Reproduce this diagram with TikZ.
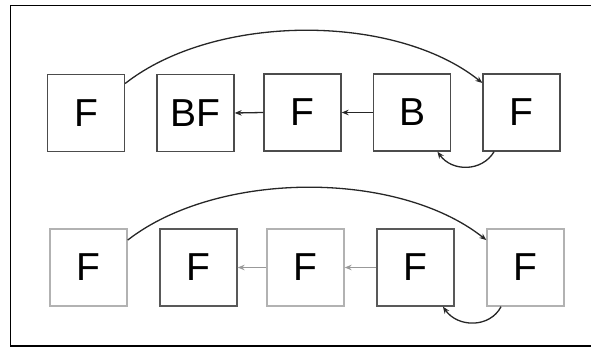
\documentclass[tikz,border=0pt]{standalone}
\usepackage{fontspec}
\setmainfont{Liberation Sans}
\usetikzlibrary{arrows.meta}
\begin{document}
\begin{tikzpicture}[x=1pt,y=-1pt,
  box/.style={draw=#1,line width=1.3pt,minimum width=77pt,minimum height=77pt,inner sep=0pt,font=\fontsize{39}{39}\selectfont,fill=white},
  box/.default={black!70},
  lbox/.style={box=black!30},
  dbox/.style={box=black!65},
  conn/.style={draw=black!85,line width=1.3pt,-{Stealth[length=7pt,width=5.5pt]}},
  gconn/.style={conn,draw=black!40}]
\useasboundingbox (0,0) rectangle (591,347);
\draw[line width=1.4pt] (10.5,5.5) rectangle (593,345.8);
% top row
\node[box] (a1) at (86,113) {F};
\node[box] (a2) at (195.5,113) {BF};
\node[box] (a3) at (302.5,112.5) {F};
\node[box] (a4) at (412,112.5) {B};
\node[box] (a5) at (521.5,112.5) {F};
\draw[conn] (a3.west) -- (a2.east);
\draw[conn] (a4.west) -- (a3.east);
\draw[conn] (a1.37) .. controls (215,13) and (395,13) .. (a5.143);
\draw[conn] (a5.235) .. controls (482,172) and (452,172) .. (a4.303);
% bottom row
\node[lbox] (b1) at (88.5,267.5) {F};
\node[dbox] (b2) at (198.5,267.5) {F};
\node[lbox] (b3) at (305.5,267.5) {F};
\node[dbox] (b4) at (415.5,267.5) {F};
\node[lbox] (b5) at (525.5,267.5) {F};
\draw[gconn] (b3.west) -- (b2.east);
\draw[gconn] (b4.west) -- (b3.east);
\draw[conn] (b1.35) .. controls (218,170) and (398,170) .. (b5.145);
\draw[conn] (b5.238) .. controls (490,328) and (458,328) .. (b4.305);
\end{tikzpicture}
\end{document}
